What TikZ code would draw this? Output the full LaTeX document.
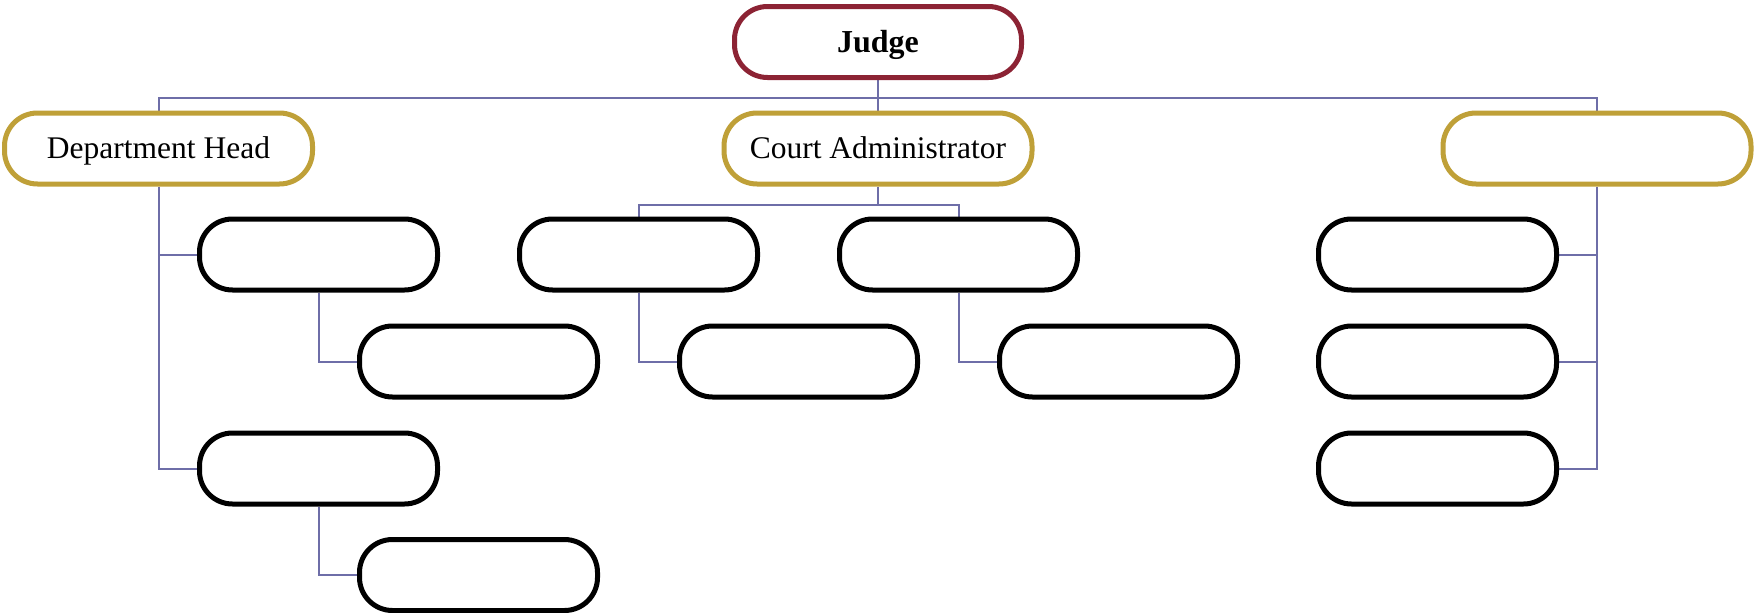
\documentclass[tikz,border=0pt]{standalone}
\usepackage{fontspec}
\setmainfont{Liberation Serif}
\usepackage{tikz}
\usetikzlibrary{backgrounds}
\definecolor{linkblue}{RGB}{110,110,168}
\definecolor{headgold}{RGB}{191,160,56}
\definecolor{judgered}{RGB}{140,35,52}

\begin{document}
\begin{tikzpicture}[x=1pt, y=-1pt,
    box/.style={draw, line width=5pt, fill=white, rounded corners=33pt,
      minimum width=238pt, minimum height=71pt, inner sep=0pt,
      text height=20pt, text depth=0pt,
      font=\fontsize{31.5}{36}\selectfont},
    head/.style={box, draw=headgold, minimum width=308pt},
    top/.style={box, draw=judgered, minimum width=287pt,
      font=\fontsize{32}{36}\selectfont\bfseries},
    link/.style={draw=linkblue, line width=2pt}]
      \useasboundingbox (0, 0) rectangle (1754, 613);
      \node [top] (11) at (878, 42) {Judge};
      \node [head] (21) at (158.5, 148.5) {Department Head}; \node [head] (22) at (878, 148.5) {Court Administrator}; \node [head] (23) at (1597, 148.5) {};
      \node [box] (31) at (318.5, 254.5) {}; \node [box] (32) at (638.5, 254.5) {}; \node [box] (33) at (958.5, 254.5) {}; \node [box] (34) at (1437.5, 254.5) {};
      \node [box] (41) at (478.5, 361.5) {}; \node [box] (42) at (798.5, 361.5) {}; \node [box] (43) at (1118.5, 361.5) {}; \node [box] (44) at (1437.5, 361.5) {};
      \node [box] (51) at (318.5, 468.5) {}; \node [box] (52) at (1437.5, 468.5) {};
      \node [box] (61) at (478.5, 575) {};

      \begin{scope}[on background layer]
      \path [link]
      (11.south) -- ++(0, 17.5) -| (21.north)
      (11.south) -- ++(0, 17.5) -| (23.north)
      (11.south) -- (22.north)
      (21.south) |- (31.west)
      (21.south) |- (51.west)
      (31.south) |- (41.west)
      (51.south) |- (61.west)
      (22.south) -- ++(0, 18) -| (32.north)
      (22.south) -- ++(0, 18) -| (33.north)
      (32.south) |- (42.west)
      (33.south) |- (43.west)
      (23.south) |- (34.east)
      (23.south) |- (44.east)
      (23.south) |- (52.east);
      \end{scope}
    \end{tikzpicture}
\end{document}
